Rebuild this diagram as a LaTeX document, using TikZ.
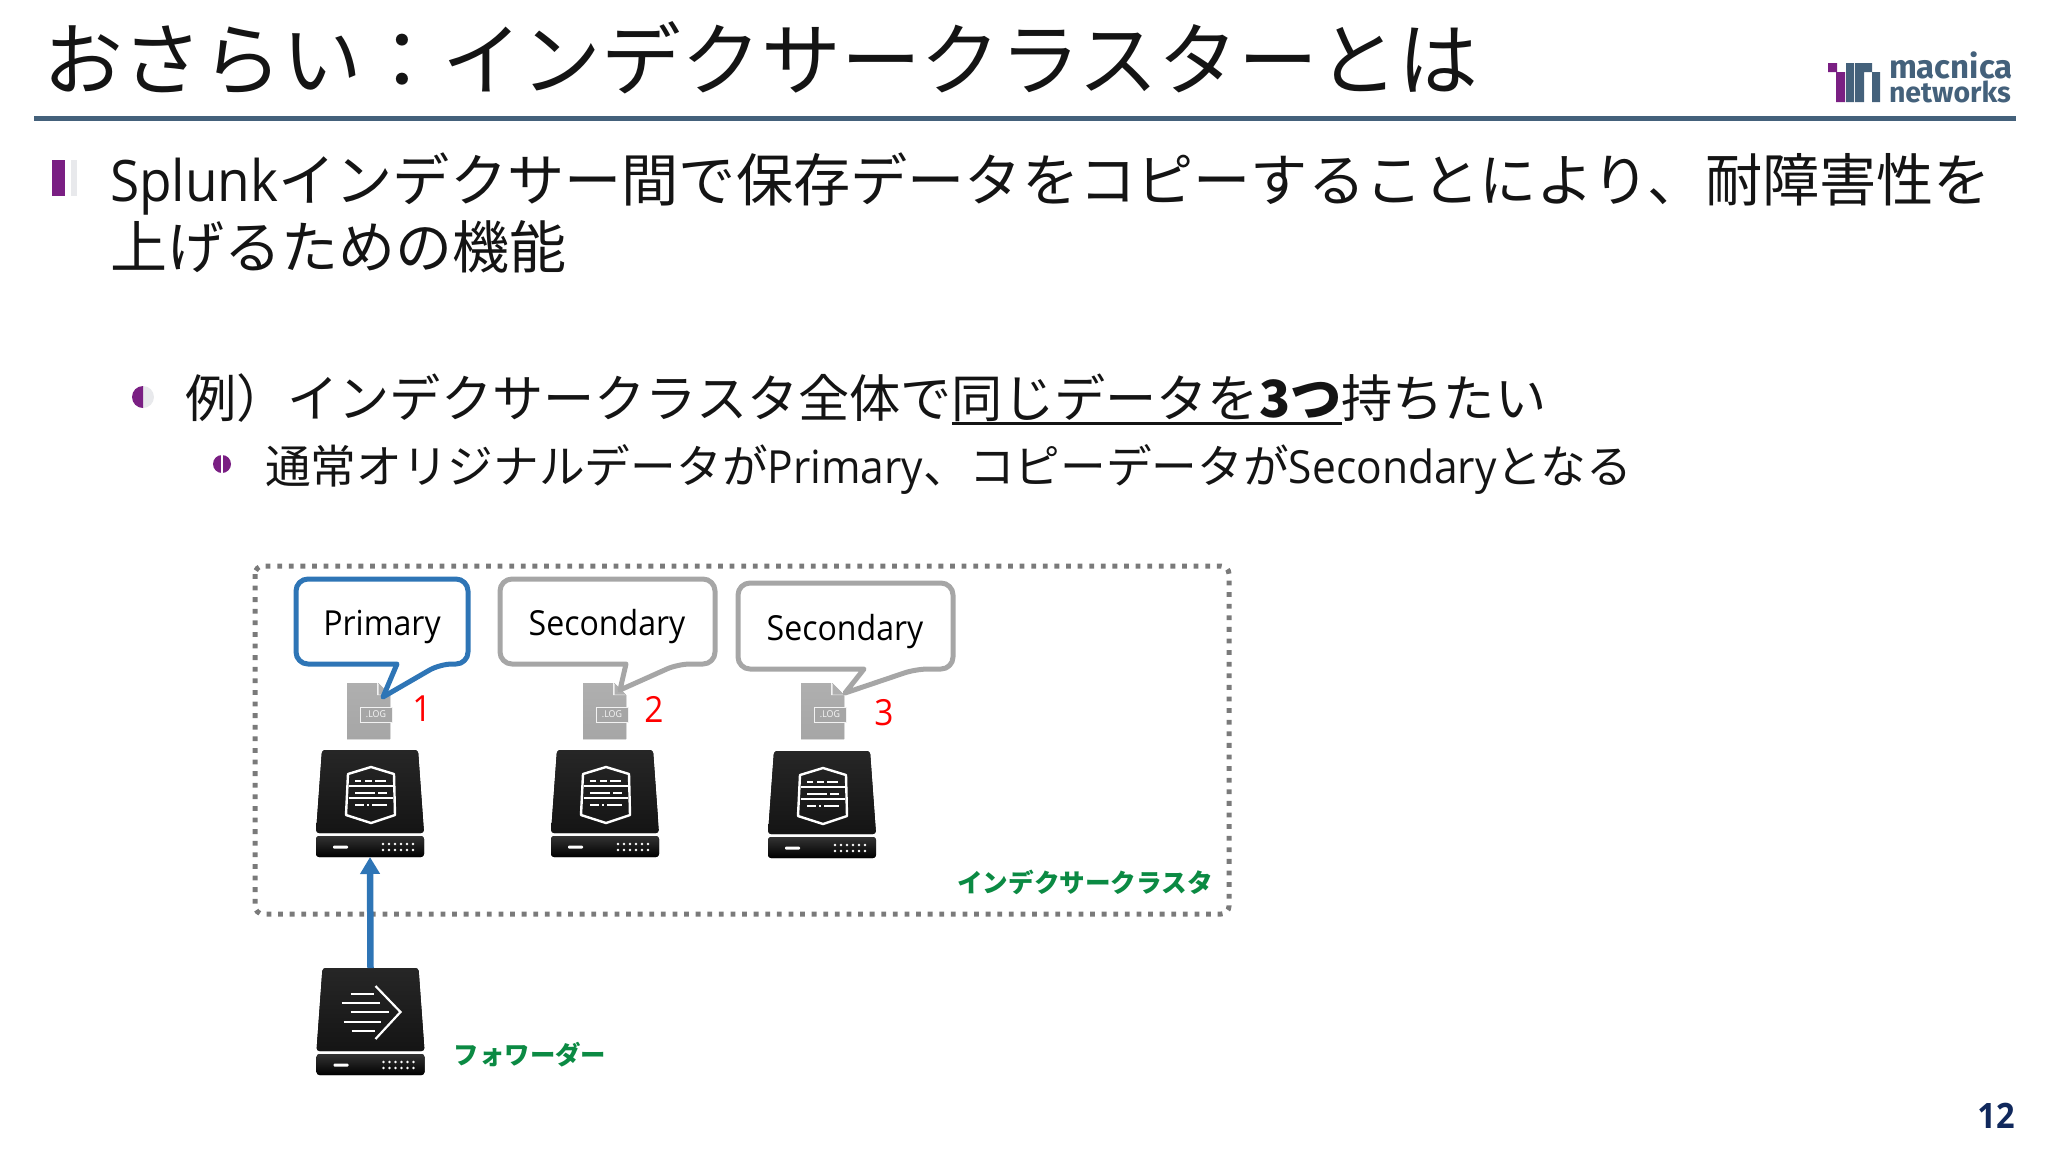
\documentclass[tikz,border=0pt]{standalone}
\usepackage{fontspec}
\usepackage{xcolor}
\usetikzlibrary{arrows.meta,positioning}
\setmainfont[FakeStretch=0.93]{Open Sans}
\newfontfamily\cjk{Noto Sans CJK JP}
\newfontfamily\logofont{Fira Sans}
\definecolor{slate}{HTML}{44617B}
\definecolor{plum}{HTML}{7A1F83}
\definecolor{paleg}{HTML}{E8E9EC}
\definecolor{callblue}{HTML}{2E75B6}
\definecolor{callgrey}{HTML}{A6A6A6}
\definecolor{leafg}{HTML}{0B8A43}
\definecolor{navyno}{HTML}{10285C}

\newcommand{\fs}[1]{\fontsize{#1}{#1}\selectfont}
\newcommand{\thickul}[1]{\setbox0\hbox{#1}\rlap{\rule[-7.5pt]{\wd0}{2.6pt}}\box0 }

\tikzset{
  every node/.style={inner sep=0pt,outer sep=0pt},
  line/.style={anchor=base west,text=black!92},
  balloon/.style={line width=5pt,rounded corners=12pt,fill=white,line join=round},
  iconbox/.style={minimum width=107pt,minimum height=107pt},
  pics/basebox/.style={code={
    \fill[rounded corners=3pt,top color=black!85,bottom color=black!92]
      (-48,0) -- (48,0) -- (54,83) -- (-54,83) -- cycle;
    \fill[rounded corners=3pt,top color=black!80,bottom color=black]
      (-54,86) -- (54,86) -- (54,107) -- (-54,107) -- cycle;
    \fill[white,rounded corners=1pt] (-37,95.5) rectangle (-22,98.5);
    \foreach \dx in {13,19,25,31,37,43}
      \foreach \dy in {94,100}
        \fill[white] (\dx,\dy) circle (1.3);
  }},
  pics/indexericon/.style={code={
    \pic {basebox};
    \draw[white,line width=2.4pt,line join=round]
      (1,17) -- (24,24) -- (25,65) -- (1,73) -- (-24,65) -- (-22,24) -- cycle;
    \draw[white,line width=1.2pt] (-21,36) -- (23,36) (-21,48) -- (23,48);
    \draw[white,line width=2.8pt]
      (-15,31) -- (-9,31) (-5,31) -- (2,31) (5,31) -- (16,31)
      (-15,43) -- (5,43) (8,43) -- (17,43)
      (-15,55) -- (-6,55) (-3,55) -- (-1,55) (2,55) -- (17,55);
  }},
  pics/forwardericon/.style={code={
    \pic {basebox};
    \draw[white,line width=2.2pt] (5,18) -- (30,44) -- (5,71);
    \draw[white,line width=2.2pt]
      (-20,26) -- (3,26) (-29,35) -- (9,35) (-20,44) -- (18,44)
      (-27,54) -- (10,54) (-19,63) -- (4,63);
  }},
  pics/logicon/.style={code={
    \fill[top color=callgrey!90,bottom color=callgrey]
      (0,0) -- (31,0) -- (43,12) -- (43,56) -- (0,56) -- cycle;
    \fill[white,opacity=.85] (30,0) -- (31,0) -- (43,12) -- (30,12) -- cycle;
    \fill[callgrey!90] (31.5,0) -- (43,11.5) -- (31.5,11.5) -- cycle;
    \draw[white!85!callgrey,line width=1pt,fill=callgrey] (13,24) rectangle (45,39);
    \node[text=white!92!callgrey] at (29,31.5) {\fs{9.5}.LOG};
  }},
}

\begin{document}
\begin{tikzpicture}[x=1pt,y=-1pt]
\useasboundingbox (0,0) rectangle (2048,1152);

% heading
\node[line] (title) at (43,89) {\cjk\fs{79.8}おさらい：インデクサークラスターとは};
\fill[slate] (34,115.5) rectangle (2016,120.5);

% logo
\fill[plum] (1828,63) rectangle (1837,72) (1836,72) rectangle (1845,102);
\fill[slate] (1846,63) rectangle (1854,102) (1855,63) rectangle (1864,102)
  (1864,63) rectangle (1872,72) (1872,72) rectangle (1880,102);
\node[anchor=base west,text=slate] (logo1) at (1889,78) {\logofont\bfseries\fs{33}macnica};
\node[anchor=base west,text=slate] (logo2) at (1889,102) {\logofont\bfseries\fs{28.5}networks};

% bullets
\fill[paleg] (143,386) arc (-90:90:11);
\fill[plum] (143,386) arc (-90:-270:11);
\fill[plum] (52,160) rectangle (65,196);
\fill[paleg] (71,160) rectangle (77,196);
\fill[plum] (222,464) circle (9);
\fill[white] (221,455) rectangle (223,473);

% body text
\node[line] (body1) at (110,201) {\fs{57.2}Splunk\cjk インデクサー間で保存データをコピーすることにより、耐障害性を};
\node[line] (body2) at (110,268) {\cjk\fs{57}上げるための機能};
\node[line] (body3) at (185,417) {\cjk\fs{51.2}例）インデクサークラスタ全体で\thickul{同じデータを\textbf{3つ}}持ちたい};
\node[line] (body4) at (265,483) {\cjk\fs{45.7}通常オリジナルデータが{\rmfamily Primary}、コピーデータが{\rmfamily Secondary}となる};

% cluster frame
\draw[black!52,line width=5pt,dash pattern=on 4.8pt off 6.8pt,rounded corners=8pt]
  (255,566) rectangle (1229,914);
\node[text=leafg] (clusterlabel) at (1085,882) {\cjk\bfseries\fs{25.6}インデクサークラスタ};

% log files
\pic at (347,683) {logicon};
\pic at (583,683) {logicon};
\pic at (801,683) {logicon};

% speech balloons
\draw[balloon,draw=callblue] (296,664) -- (296,579) -- (468,579) -- (468,664) -- (440,664)
  [rounded corners=0pt] -- (383,697) -- (397,664) [rounded corners=12pt] -- cycle;
\draw[balloon,draw=callgrey] (500,664) -- (500,579) -- (715,579) -- (715,664) -- (678,664)
  [rounded corners=0pt] -- (620,690) -- (626,664) [rounded corners=12pt] -- cycle;
\draw[balloon,draw=callgrey] (738,669) -- (738,583) -- (953,583) -- (953,669) -- (916,669)
  [rounded corners=0pt] -- (845,693) -- (864,669) [rounded corners=12pt] -- cycle;
\node (tag1) at (382,627) {\fs{34.5}Primary};
\node (tag2) at (607,627) {\fs{34.5}Secondary};
\node (tag3) at (845,632) {\fs{34.5}Secondary};

% numbers
\node[text=red] (num1) at (422,709) {\fs{36}1};
\node[text=red] (num2) at (654,709) {\fs{36}2};
\node[text=red] (num3) at (884,713) {\fs{36}3};

% servers
\node[iconbox] (idx1) at (370,803.5) {};
\node[iconbox] (idx2) at (605,803.5) {};
\node[iconbox] (idx3) at (822,804.5) {};
\node[iconbox] (fwd) at (370.5,1021.5) {};
\pic at (idx1.north) {indexericon};
\pic at (idx2.north) {indexericon};
\pic at (idx3.north) {indexericon};
\pic at (fwd.north) {forwardericon};
\draw[callblue,line width=6.5pt,-{Triangle[length=17pt,width=19pt]}] (fwd.north) -- (idx1.south);
\node[text=leafg] (fwdlabel) at (530,1055) {\cjk\bfseries\fs{25.4}フォワーダー};

\node[text=navyno] (pageno) at (1996,1116) {\bfseries\fs{35}12};
\end{tikzpicture}
\end{document}
